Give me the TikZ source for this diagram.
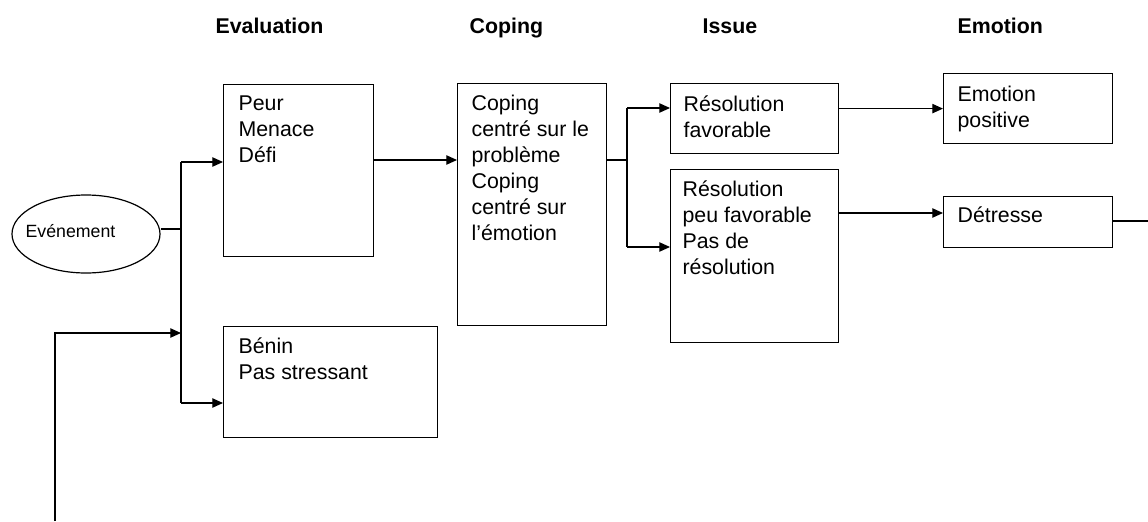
\documentclass[tikz,border=0pt]{standalone}
\usepackage{fontspec}
\setmainfont{Liberation Sans}
\usetikzlibrary{arrows.meta,shapes.geometric}
\begin{document}
\begin{tikzpicture}[x=0.75pt,y=-0.75pt,
  line width=0.9pt,
  box/.style={draw, line width=0.9pt, inner sep=0, anchor=north west},
  txt/.style={anchor=base west, align=left, inner sep=0, font=\fontsize{16}{19.5}\selectfont},
  hdr/.style={anchor=base west, inner sep=0, font=\bfseries\fontsize{16}{19.5}\selectfont},
  arr/.style={-{Triangle[length=8pt,width=7pt]}}]
\useasboundingbox (0,0) rectangle (1148,521);
% headers
\node[hdr] (h1) at (215,33) {Evaluation};
\node[hdr] (h2) at (469,33) {Coping};
\node[hdr] (h3) at (702,33) {Issue};
\node[hdr] (h4) at (957,33) {Emotion};
% event
\node[draw, ellipse, inner sep=0, minimum width=148*0.75pt, minimum height=78*0.75pt] (ev) at (86,234) {};
\node[anchor=base west, inner sep=0, font=\fontsize{13.3}{16}\selectfont] (evt) at (25,237) {Evénement};
% boxes (text nodes anchored at the baseline of their last line)
\node[box, minimum width=150*0.75pt, minimum height=172*0.75pt] (b1) at (223,84) {};
\node[txt] (t1) at (238,162) {Peur\\Menace\\Défi};
\node[box, minimum width=214*0.75pt, minimum height=111*0.75pt] (b2) at (223,326) {};
\node[txt] (t2) at (238,379) {Bénin\\Pas stressant};
\node[box, minimum width=149*0.75pt, minimum height=242*0.75pt] (cp) at (457,83) {};
\node[txt] (t3) at (471,240) {Coping\\centré sur le\\problème\\Coping\\centré sur\\l’émotion};
\node[box, minimum width=168*0.75pt, minimum height=70*0.75pt] (r1b) at (670,83) {};
\node[txt] (t4) at (683,137) {Résolution\\favorable};
\node[box, minimum width=168*0.75pt, minimum height=173*0.75pt] (r2b) at (670,169) {};
\node[txt] (t5) at (682,274) {Résolution\\peu favorable\\Pas de\\résolution};
\node[box, minimum width=169*0.75pt, minimum height=70*0.75pt] (em) at (943,73) {};
\node[txt] (t6) at (957,127) {Emotion\\positive};
\node[box, minimum width=169*0.75pt, minimum height=51*0.75pt] (det) at (943,196) {};
\node[txt] (t7) at (957,222) {Détresse};
% junction coordinates
\coordinate (j1) at (181,229);
\coordinate (j1top) at (181,162);
\coordinate (j1bot) at (181,403);
\coordinate (j1in) at (181,333);
\coordinate (fb) at (55,521);
\coordinate (fbc) at (55,333);
\coordinate (r1) at (0,160);
\coordinate (j2) at (627,160);
\coordinate (j2a) at (627,108);
\coordinate (j2b) at (627,247);
\coordinate (y213) at (0,213);
\coordinate (out) at (1148,221);
% connectors
\draw (ev.east |- j1) -- (j1);
\draw (j1top) -- (j1bot);
\draw[arr] (j1top) -- (b1.west |- j1top);
\draw[arr] (j1bot) -- (b2.west |- j1bot);
\draw[arr] (fb) -- (fbc) -- (j1in);
\draw[arr] (b1.east |- r1) -- (cp.west |- r1);
\draw (cp.east |- j2) -- (j2);
\draw (j2a) -- (j2b);
\draw[arr] (j2a) -- (r1b.west |- j2a);
\draw[arr] (j2b) -- (r2b.west |- j2b);
\draw[arr] (r1b.east |- em.west) -- (em.west);
\draw[arr] (r2b.east |- y213) -- (det.west |- y213);
\draw (det.east |- out) -- (out);
\end{tikzpicture}
\end{document}
